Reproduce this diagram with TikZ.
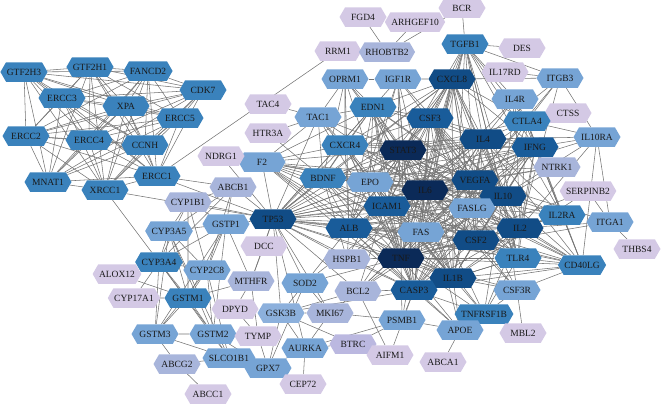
\documentclass[tikz,border=0pt]{standalone}
\usepackage{fontspec}
\setmainfont{Liberation Serif}
\usetikzlibrary{shapes.symbols}
\pgfdeclarelayer{bg}
\pgfsetlayers{bg,main}
\definecolor{cN}{HTML}{0B2A58}
\definecolor{cD}{HTML}{114C86}
\definecolor{cDD}{HTML}{195C9A}
\definecolor{cM}{HTML}{3A82BC}
\definecolor{cLL}{HTML}{8CB0DC}
\definecolor{cL}{HTML}{76A4D5}
\definecolor{cG}{HTML}{A8B5DB}
\definecolor{cGV}{HTML}{BBB8E0}
\definecolor{cV}{HTML}{D4C9E5}
\definecolor{lnc}{HTML}{747474}
\tikzset{
  hx/.style={signal, signal to=west and east, signal pointer angle=120,
    minimum height=19.5pt, minimum width=47pt, inner xsep=0.8pt, inner ysep=0pt,
    fill=#1, draw=none, text=black!90, font=\fontsize{9.5}{10}\selectfont},
  lnk/.style={draw=lnc, line width=0.55pt}
}
\newcommand\nd[4]{\node[hx=#4] (#1) at (#2,#3) {#1};}
\newcommand\hub[2]{\foreach \bb in {#2} {\draw[lnk] (#1) -- (\bb);}}
\def\dnalist{GTF2H3,GTF2H1,FANCD2,CDK7,ERCC3,XPA,ERCC5,ERCC2,ERCC4,CCNH,MNAT1,ERCC1,XRCC1}
\def\corelist{STAT3,IL6,TNF,IL10,VEGFA,IL4,IL2,CSF2,IL1B,CXCL8,ALB,ICAM1,CASP3,IFNG,FAS,FASLG,CSF3,TLR4,EPO,TP53}
\begin{document}
\begin{tikzpicture}[x=1pt,y=-1pt]
\useasboundingbox (0,0) rectangle (662,405);
% DNA repair cluster
\nd{GTF2H3}{24}{72}{cM}
\nd{GTF2H1}{90}{67}{cM}
\nd{FANCD2}{148}{71}{cM}
\nd{CDK7}{203}{90}{cM}
\nd{ERCC3}{62}{98}{cM}
\nd{XPA}{126}{106}{cM}
\nd{ERCC5}{180}{118}{cM}
\nd{ERCC2}{26}{136}{cM}
\nd{ERCC4}{89}{140}{cM}
\nd{CCNH}{145}{145}{cM}
\nd{MNAT1}{48}{182}{cM}
\nd{ERCC1}{157}{176}{cM}
\nd{XRCC1}{105}{190}{cM}
% top
\nd{FGD4}{363}{17}{cV}
\nd{ARHGEF10}{415}{22}{cV}
\nd{BCR}{462}{8}{cV}
\nd{RRM1}{338}{51}{cV}
\nd{RHOBTB2}{387}{52}{cG}
\nd{TGFB1}{465}{44}{cM}
\nd{DES}{522}{48}{cV}
\nd{OPRM1}{345}{79}{cL}
\nd{IGF1R}{398}{79}{cL}
\nd{CXCL8}{452}{79}{cD}
\nd{IL17RD}{505}{72}{cV}
\nd{ITGB3}{560}{78}{cL}
\nd{IL4R}{515}{99}{cL}
\nd{EDN1}{373}{107}{cM}
\nd{TAC4}{268}{104}{cV}
\nd{TAC1}{318}{117}{cL}
\nd{CSF3}{430}{118}{cDD}
\nd{CTSS}{568}{113}{cV}
\nd{CTLA4}{527}{121}{cM}
\nd{HTR3A}{268}{133}{cV}
\nd{IL4}{483}{139}{cD}
\nd{IL10RA}{597}{137}{cL}
\nd{IFNG}{535}{147}{cDD}
% middle
\nd{CXCR4}{345}{145}{cM}
\nd{STAT3}{403}{150}{cN}
\nd{F2}{262}{162}{cL}
\nd{NDRG1}{221}{156}{cV}
\nd{NTRK1}{557}{167}{cG}
\nd{BDNF}{323}{178}{cM}
\nd{EPO}{370}{182}{cL}
\nd{VEGFA}{475}{180}{cD}
\nd{IL6}{425}{190}{cN}
\nd{ABCB1}{233}{187}{cG}
\nd{SERPINB2}{588}{191}{cV}
\nd{IL10}{503}{196}{cD}
\nd{CYP1B1}{188}{202}{cG}
\nd{ICAM1}{387}{206}{cDD}
\nd{FASLG}{472}{208}{cL}
\nd{IL2RA}{562}{215}{cM}
\nd{TP53}{273}{219}{cD}
\nd{ITGA1}{610}{222}{cL}
\nd{GSTP1}{226}{224}{cL}
\nd{ALB}{349}{228}{cDD}
\nd{FAS}{421}{232}{cL}
\nd{IL2}{520}{228}{cD}
\nd{CYP3A5}{169}{231}{cL}
\nd{CSF2}{476}{240}{cD}
\nd{DCC}{264}{246}{cV}
\nd{THBS4}{637}{249}{cV}
\nd{HSPB1}{347}{259}{cG}
\nd{TNF}{401}{258}{cN}
\nd{TLR4}{518}{258}{cM}
\nd{CYP3A4}{159}{262}{cM}
\nd{CD40LG}{582}{265}{cM}
\nd{CYP2C8}{207}{270}{cL}
\nd{ALOX12}{117}{274}{cV}
\nd{IL1B}{453}{278}{cD}
\nd{MTHFR}{251}{281}{cG}
\nd{SOD2}{305}{283}{cL}
\nd{BCL2}{358}{291}{cG}
\nd{CASP3}{414}{290}{cDD}
\nd{CSF3R}{517}{290}{cL}
% bottom
\nd{GSTM1}{188}{298}{cM}
\nd{CYP17A1}{134}{298}{cV}
\nd{DPYD}{235}{309}{cV}
\nd{GSK3B}{281}{313}{cLL}
\nd{MKI67}{330}{313}{cG}
\nd{TNFRSF1B}{484}{314}{cM}
\nd{PSMB1}{402}{320}{cL}
\nd{APOE}{460}{330}{cL}
\nd{MBL2}{523}{333}{cV}
\nd{GSTM3}{155}{334}{cL}
\nd{GSTM2}{213}{334}{cL}
\nd{TYMP}{258}{336}{cV}
\nd{BTRC}{353}{344}{cGV}
\nd{AURKA}{305}{348}{cL}
\nd{AIFM1}{390}{355}{cV}
\nd{ABCA1}{443}{362}{cV}
\nd{SLCO1B1}{229}{358}{cL}
\nd{ABCG2}{177}{364}{cG}
\nd{GPX7}{268}{368}{cL}
\nd{CEP72}{303}{384}{cV}
\nd{ABCC1}{208}{394}{cV}
\begin{pgfonlayer}{bg}
\foreach \a [count=\i] in \dnalist {\foreach \b [count=\j] in \dnalist {\ifnum\j>\i \draw[lnk] (\a) -- (\b);\fi}}
\foreach \a [count=\i] in \corelist {\foreach \b [count=\j] in \corelist {\ifnum\j>\i \draw[lnk] (\a) -- (\b);\fi}}
\hub{CXCR4}{STAT3,IL6,TNF,CXCL8,VEGFA,IL10,IL4,IFNG,IL2,EDN1,BDNF,TP53,F2,OPRM1,ICAM1,CSF3,TAC1,EPO,IL1B,CASP3,ALB}
\hub{EDN1}{IL6,TNF,VEGFA,CXCL8,STAT3,IL1B,ALB,EPO,ICAM1,BDNF,TAC1,OPRM1,F2,IL10,TP53,CSF3,IL4,FAS,CASP3}
\hub{BDNF}{STAT3,IL6,TNF,VEGFA,TP53,IL1B,ALB,EPO,CASP3,IL10,IL4,F2,TAC1,OPRM1,NTRK1,HSPB1,IFNG,CXCL8,ICAM1,FAS}
\hub{OPRM1}{TAC1,IGF1R,IL6,TNF,STAT3,ALB}
\hub{IGF1R}{CXCL8,VEGFA,IL6,STAT3,TP53,ALB,TNF,CASP3,EPO,IL10}
\hub{TAC1}{TAC4,HTR3A,IL6,TNF,IL1B,TP53,STAT3,F2}
\hub{F2}{TP53,ALB,TNF,IL6,VEGFA,ICAM1,STAT3,IL1B,EPO,CASP3,IL10,FAS}
\hub{NDRG1}{TP53}
\hub{TP53}{ABCB1,GSTP1,CYP1B1,MTHFR,DCC,XRCC1,ERCC1,SOD2,GSK3B,MKI67,AURKA,HSPB1,BCL2,BDNF}
\hub{ERCC1}{ABCB1,RRM1}
\hub{XRCC1}{CYP3A4}
\hub{CYP3A4}{CYP3A5,CYP2C8,GSTM1,GSTM3,GSTM2,ALOX12,CYP17A1,CYP1B1,ABCB1,SLCO1B1,GSTP1}
\hub{CYP3A5}{CYP2C8,GSTM1,GSTP1,CYP1B1,GSTM2,GSTM3,ABCB1,SLCO1B1}
\hub{CYP2C8}{GSTM1,GSTM2,GSTM3,GSTP1,CYP1B1,ABCB1,SLCO1B1}
\hub{GSTM1}{GSTM2,GSTM3,GSTP1,CYP17A1,MTHFR,CYP1B1,ALOX12}
\hub{GSTM2}{GSTM3,GSTP1,SLCO1B1,TYMP,GPX7}
\hub{GSTM3}{GSTP1,ABCG2,SLCO1B1}
\hub{ABCG2}{SLCO1B1,ABCC1}
\hub{ABCB1}{GSTP1,CYP1B1}
\hub{CYP1B1}{GSTP1}
\hub{MTHFR}{TYMP,DPYD,GSTP1,DCC}
\hub{DPYD}{TYMP}
\hub{GPX7}{GSK3B,AURKA,SOD2,TYMP,SLCO1B1}
\hub{GSK3B}{SOD2,MKI67,AURKA,BTRC,BCL2,CASP3}
\hub{MKI67}{AURKA,BCL2,PSMB1,SOD2}
\hub{AURKA}{CEP72,BTRC,PSMB1}
\hub{BTRC}{PSMB1}
\hub{SOD2}{ALB,TNF,IL6}
\hub{BCL2}{CASP3,TNF,IL6,AIFM1,STAT3,VEGFA,IL10,FAS}
\hub{PSMB1}{CASP3,TNF,IL6,APOE}
\hub{AIFM1}{CASP3}
\hub{APOE}{ABCA1,ALB,IL6,TNF,IL1B,CASP3}
\hub{CSF3R}{MBL2,CSF3,IL6,IL1B,TNF,CD40LG,TNFRSF1B,CSF2,IL10}
\hub{TNFRSF1B}{TNF,IL6,IL1B,IL10,CASP3,IL2,TLR4,FAS}
\hub{HSPB1}{TNF,IL6,VEGFA,CASP3,STAT3,ALB}
\hub{RHOBTB2}{FGD4,ARHGEF10,BCR}
\hub{BCR}{TGFB1}
\hub{TGFB1}{DES,ITGB3,CXCL8,IL6,TNF,IL10,IL4,IFNG,VEGFA,STAT3,IL2,CTLA4,FAS,IL4R,CSF3,IL1B,IL2RA,TLR4}
\hub{ITGB3}{IL17RD,CXCL8,IL10RA,VEGFA,IL4,IL2,CTLA4}
\hub{IL4R}{IL4,IFNG,IL10,IL2,IL6,CTLA4}
\hub{CTLA4}{IL2RA,CD40LG,IL10RA,IL4,IL6,IL10,IL2,IFNG,TNF,STAT3,FASLG,CXCL8}
\hub{IL10RA}{IL10,IFNG,IL6,IL4,ITGA1,CD40LG,IL2}
\hub{NTRK1}{IL6,TNF,VEGFA}
\hub{SERPINB2}{TNF,IL1B,ITGA1}
\hub{ITGA1}{THBS4,VEGFA,IL2,TNF}
\hub{IL2RA}{IL10,IL6,IL4,IFNG,FASLG,CD40LG,TNF,STAT3,CSF2,IL2}
\hub{CD40LG}{IL4,IL10,IFNG,IL6,TNF,TLR4,CSF2,IL1B,FAS,FASLG,ICAM1,STAT3,CASP3,IL2}
\hub{HTR3A}{BDNF}
\end{pgfonlayer}
\end{tikzpicture}
\end{document}
